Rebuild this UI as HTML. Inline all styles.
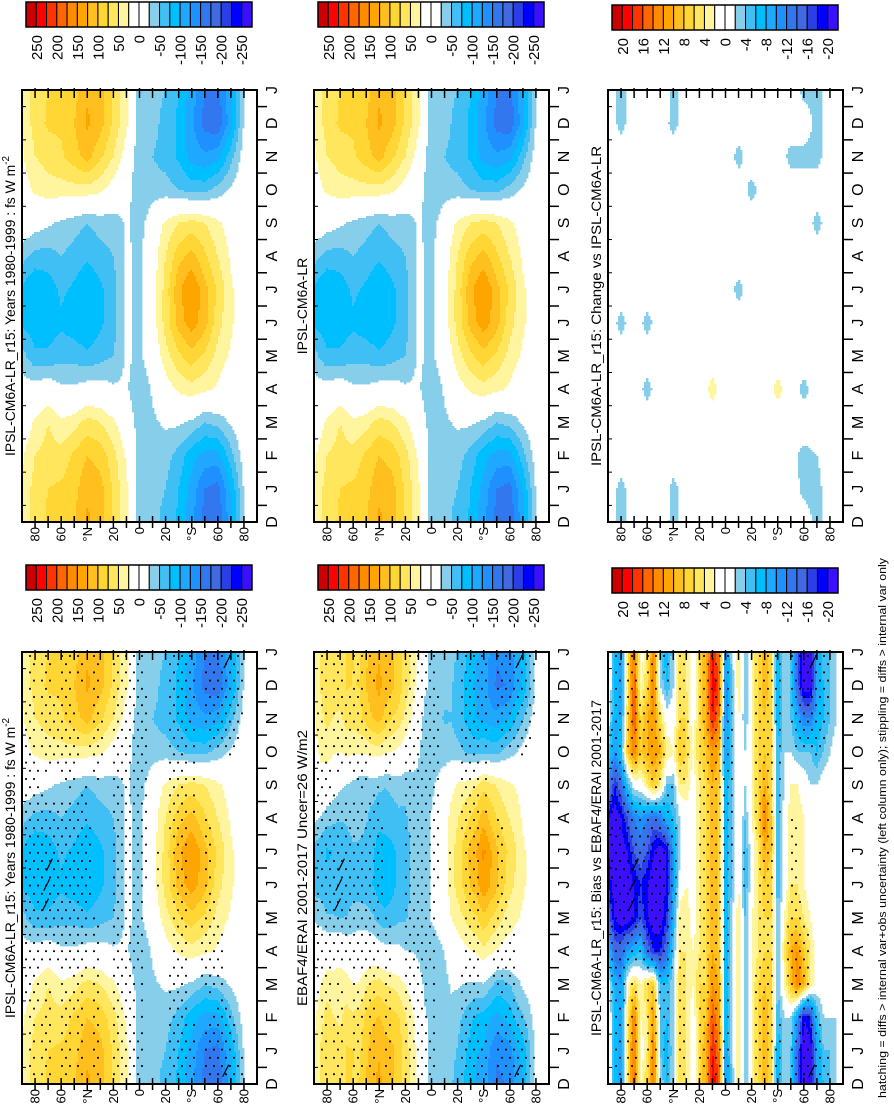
<!DOCTYPE html>
<html><head><meta charset="utf-8"><style>
html,body{margin:0;padding:0;background:#fff;}
svg{display:block;font-family:"Liberation Sans",sans-serif;}
</style></head><body>
<svg id="fig" width="894" height="1105" viewBox="0 0 894 1105" xmlns="http://www.w3.org/2000/svg"></svg>
<script>
// ---------- data ----------
const monthLabels = ["D","J","F","M","A","M","J","J","A","S","O","N","D","J"];
const fluxLabels = ["250","200","150","100","50","0","-50","-100","-150","-200","-250"];
const diffLabels = ["20","16","12","8","4","0","-4","-8","-12","-16","-20"];
const latTickLabels = ["80","60","°N","20","0","20","°S","60","80"];
const latTickValues = [80,60,40,20,0,-20,-40,-60,-80];
// model net surface flux, W m-2, rows Jan..Dec, lat 90N..90S every 10 deg
const modelJan=[30,60,75,80,90,120,110,70,30,-40,-40,-50,-75,-110,-150,-160,-100,-20,0];
const modelFeb=[20,50,60,60,80,100,90,60,20,-40,-35,-40,-60,-90,-110,-110,-60,-10,0];
const modelMar=[0,30,50,30,40,60,50,30,0,-40,-30,-20,-20,-30,-50,-40,-20,0,0];
const modelApr=[-10,-10,0,-20,-20,-10,-10,-20,-20,-50,-20,10,30,40,30,20,0,0,0];
const modelMay=[-40,-70,-70,-60,-60,-70,-60,-50,-20,-30,0,40,70,90,70,40,20,0,0];
const modelJun=[-80,-90,-90,-80,-90,-100,-80,-60,-20,-30,10,60,110,140,110,60,30,0,0];
const modelJul=[-80,-100,-90,-70,-80,-100,-80,-60,-20,-30,10,60,120,150,110,70,30,0,0];
const modelAug=[-40,-60,-60,-50,-60,-70,-60,-50,-20,-30,10,50,90,110,80,50,20,0,0];
const modelSep=[0,-10,-20,-30,-40,-50,-40,-40,-20,-40,0,30,50,60,50,30,10,0,0];
const modelOct=[10,30,40,40,40,40,30,10,-10,-50,-40,-40,-50,-60,-60,-40,-20,0,0];
const modelNov=[20,50,60,70,90,110,80,50,10,-50,-50,-60,-80,-110,-120,-110,-60,-10,0];
const modelDec=[30,60,80,80,100,130,110,70,30,-40,-40,-60,-80,-120,-160,-170,-110,-20,0];
// bias vs EBAF4/ERAI, lat 90N..90S every 5 deg
const biasJan=[2,-6,-10,4,16,0,4,14,-4,-8,-2,6,4,0,6,10,18,14,-10,-2,4,-4,2,6,10,6,-8,-2,-4,-14,-22,-22,-10,-4,-4,-2,0];
const biasFeb=[2,-6,-10,4,14,2,4,12,-4,-6,-2,6,4,0,6,8,16,12,-8,-2,4,-4,2,6,10,6,-6,-2,-2,-10,-20,-18,-6,-2,-2,-2,0];
const biasMar=[0,-8,-10,2,6,2,6,8,-6,-6,-2,6,4,2,6,6,12,10,-8,-2,4,-4,2,6,8,6,-4,2,8,14,10,4,0,0,0,0,0];
const biasApr=[-6,-14,-14,-10,-8,-6,-14,-18,-18,-14,-4,4,4,2,4,6,10,8,-8,-2,4,-4,2,4,6,6,-4,4,10,12,8,4,0,0,0,0,0];
const biasMay=[-14,-20,-22,-22,-20,-16,-20,-22,-22,-18,-8,4,4,0,4,6,10,8,-8,-2,4,-4,2,4,6,6,-4,2,6,6,4,2,0,0,0,0,0];
const biasJun=[-18,-22,-22,-22,-20,-18,-20,-22,-22,-20,-10,0,2,0,4,6,10,8,-8,-4,2,-6,0,4,8,6,-6,0,4,4,2,0,0,0,0,0,0];
const biasJul=[-20,-22,-22,-20,-16,-14,-16,-20,-22,-20,-10,-2,0,0,4,6,10,8,-8,-4,2,-6,0,4,10,8,-6,0,4,4,2,0,0,0,0,0,0];
const biasAug=[-20,-22,-20,-16,-12,-10,-12,-14,-12,-8,-6,-2,0,0,4,6,10,8,-8,-4,2,-4,2,6,14,8,-6,0,4,4,2,-2,0,0,0,0,0];
const biasSep=[-10,-18,-14,-6,0,0,4,8,4,-4,-4,4,4,0,4,6,10,8,-8,-4,2,-2,2,6,10,6,-6,-2,2,2,0,-2,-2,0,0,0,0];
const biasOct=[-4,-10,-6,8,14,8,10,12,10,4,2,8,6,2,6,8,12,10,-10,-4,2,-2,2,6,8,6,-6,-2,-2,-4,-4,-4,-6,-4,-2,0,0];
const biasNov=[0,-8,-8,6,16,6,10,12,6,0,0,6,6,0,6,10,18,14,-12,-4,2,-4,2,6,8,6,-8,-2,-4,-8,-12,-12,-8,-6,-4,-2,0];
const biasDec=[2,-6,-10,4,16,2,6,14,-2,-6,-2,6,4,0,6,10,20,16,-12,-4,4,-4,2,6,10,6,-8,-2,-4,-14,-22,-22,-10,-6,-4,-2,0];
// change vs IPSL-CM6A-LR, lat 90N..90S every 10 deg
const changeJan=[0,-3,0,0,1,-3,0,0,0,0,0,0,0,0,0,-3,-3,0,0];
const changeFeb=[0,0,0,0,0,0,0,0,0,0,0,0,0,0,-1,-3,-2,0,0];
const changeMar=[0,0,0,0,0,0,0,0,0,0,0,0,0,0,0,0,0,0,0];
const changeApr=[0,-1,0,-3,0,0,0,0,3,0,0,0,0,3,0,-3,0,0,0];
const changeMay=[0,0,0,0,0,0,0,0,0,0,0,0,0,0,0,0,0,0,0];
const changeJun=[0,-3,0,-3,0,0,0,0,0,0,0,0,0,0,0,0,0,0,0];
const changeJul=[0,0,0,0,0,0,0,0,0,0,-3,0,0,0,0,0,0,0,0];
const changeAug=[0,0,0,0,0,0,0,0,0,0,0,0,0,0,0,0,0,0,0];
const changeSep=[0,0,0,0,0,0,0,0,0,0,0,0,0,0,0,0,-3,0,0];
const changeOct=[0,0,0,0,0,0,0,0,0,0,0,-3,0,0,0,0,0,0,0];
const changeNov=[0,0,0,0,0,0,0,0,0,0,-3,0,0,0,-3,-3,-3,0,0];
const changeDec=[0,-3,0,0,0,-3,0,0,0,0,0,0,0,0,0,0,-3,0,0];
// hatching marks (lat, time position along D..J axis)
const hatchLat=[72,71,69,-66,-67];
const hatchTime=[5.4,6.0,6.6,0.4,12.7];

const model=[modelJan,modelFeb,modelMar,modelApr,modelMay,modelJun,modelJul,modelAug,modelSep,modelOct,modelNov,modelDec];
const bias=[biasJan,biasFeb,biasMar,biasApr,biasMay,biasJun,biasJul,biasAug,biasSep,biasOct,biasNov,biasDec];
const change=[changeJan,changeFeb,changeMar,changeApr,changeMay,changeJun,changeJul,changeAug,changeSep,changeOct,changeNov,changeDec];

const palette=["#CC0000","#FF0000","#FF3300","#FF6600","#FF8C00","#FFA500","#FFBF1F","#FFD633","#FFE65C","#FFF59E","#FFFFFF","#FFFFFF","#87CEEB","#40BFF5","#00BFFF","#1EA8FF","#1E90FF","#3377EE","#4169E1","#2A3FE8","#0000FF","#3A10FF"];

// ---------- helpers ----------
const NS="http://www.w3.org/2000/svg";
const svg=document.getElementById('fig');
function mk(tag,attrs,parent){const e=document.createElementNS(NS,tag);for(const k in attrs)e.setAttribute(k,attrs[k]);(parent||svg).appendChild(e);return e;}
function field(arr,res,t,lat){
  const i0=Math.floor(t),f=t-i0;
  const m0=((i0+11)%12+12)%12,m1=(m0+1)%12;
  const n=arr[0].length;
  let li=(90-lat)/res; if(li<0)li=0; if(li>n-1)li=n-1;
  const j0=Math.min(Math.floor(li),n-2),g=li-j0;
  const a=arr[m0],b=arr[m1];
  const v0=(a[j0]||0)*(1-g)+(a[j0+1]||0)*g;
  const v1=(b[j0]||0)*(1-g)+(b[j0+1]||0)*g;
  return v0*(1-f)+v1*f;
}
const getModel=(t,l)=>field(model,10,t,l);
const getBias=(t,l)=>field(bias,5,t,l);
const getChange=(t,l)=>field(change,10,t,l);
const getObs=(t,l)=>getModel(t,l)-getBias(t,l);
function colorIndex(v,top,step){let i=Math.floor((top-v)/step);return Math.max(0,Math.min(21,i));}

const colLeft=[22,314,608], PW=235, PH=432, rowTop=[90,652];
const cbTop=[[2,565],[2,565],[5,568]];

const panels=[
 {c:0,r:0,name:'model-1980-1999-panel',get:getModel,top:275,step:25,dot:getChange,thr:3,hatch:false,title:'IPSL-CM6A-LR_r15: Years 1980-1999 : fs W m',sup:true,tl:300,labels:fluxLabels},
 {c:0,r:1,name:'model-vs-obs-panel',get:getModel,top:275,step:25,dot:getBias,thr:4,hatch:true,title:'IPSL-CM6A-LR_r15: Years 1980-1999 : fs W m',sup:true,tl:300,labels:fluxLabels},
 {c:1,r:0,name:'ipsl-reference-panel',get:getModel,top:275,step:25,dot:getChange,thr:3,hatch:false,title:'IPSL-CM6A-LR',sup:false,tl:0,labels:fluxLabels},
 {c:1,r:1,name:'ebaf4-erai-panel',get:getObs,top:275,step:25,dot:getBias,thr:4,hatch:true,title:'EBAF4/ERAI 2001-2017 Uncer=26 W/m2',sup:false,tl:276,labels:fluxLabels},
 {c:2,r:0,name:'change-panel',get:getChange,top:22,step:2,dot:getChange,thr:3,hatch:false,title:'IPSL-CM6A-LR_r15: Change vs IPSL-CM6A-LR',sup:false,tl:320,labels:diffLabels},
 {c:2,r:1,name:'bias-panel',get:getBias,top:22,step:2,dot:getBias,thr:4,hatch:true,title:'IPSL-CM6A-LR_r15: Bias vs EBAF4/ERAI 2001-2017',sup:false,tl:336,labels:diffLabels}
];

panels.forEach(p=>{
  const L=colLeft[p.c], T=rowTop[p.r], B=T+PH, R=L+PW;
  const xOf=lat=>L+(90-lat)/180*PW;
  const yOf=t=>B-t/13*PH;
  const g=mk('g',{});
  
  
  // filled field
  const bs=2;
  for(let y=T;y<B;y+=bs){
    const t=(B-(y+bs/2))/PH*13;
    let runStart=L,runIdx=-1;
    for(let x=L;x<=R;x+=bs){
      let idx=-2;
      if(x<R){const lat=90-(x+bs/2-L)/PW*180;idx=colorIndex(p.get(t,lat),p.top,p.step);}
      if(idx!==runIdx){
        if(runIdx>=0&&palette[runIdx]!=="#FFFFFF"){
          const rc=mk('rect',{x:runStart,y:y,width:Math.min(x,R)-runStart+0.4,height:bs+0.4,fill:palette[runIdx]},g);
          
          
        }
        runStart=x;runIdx=idx;
      }
    }
  }
  // stippling
  let row=0;
  for(let y=T+4;y<B-2;y+=8.2,row++){
    const t=(B-y)/PH*13;
    for(let x=L+(row%2?4:8);x<R-2;x+=8){
      const lat=90-(x-L)/PW*180;
      if(Math.abs(p.dot(t,lat))>=p.thr){
        const d=mk('rect',{x:x-0.9,y:y-0.9,width:1.8,height:1.8,fill:'#000'},g);
        
        
      }
    }
  }
  if(p.hatch){
    hatchLat.forEach((la,i)=>{
      const hx=xOf(la),hy=yOf(hatchTime[i]);
      const h=mk('line',{x1:hx-3,y1:hy+6,x2:hx+3,y2:hy-6,stroke:'#000','stroke-width':1.2},g);
      
      
    });
  }
  // frame
  const fr=mk('rect',{x:L,y:T,width:PW,height:PH,fill:'none',stroke:'#000','stroke-width':2},g);
  
  
  // latitude ticks
  for(let lat=80;lat>=-80;lat-=10){
    const x=xOf(lat);
    mk('line',{x1:x,y1:T-2,x2:x,y2:T+8,stroke:'#000','stroke-width':1.5},g);
    mk('line',{x1:x,y1:B-6,x2:x,y2:B+6,stroke:'#000','stroke-width':1.5},g);
  }
  latTickLabels.forEach((lb,i)=>{
    const x=xOf(latTickValues[i])+4.5;
    const tx=mk('text',{transform:`translate(${x},${B+5}) rotate(-90)`,'text-anchor':'end','font-size':13},g);
    tx.textContent=lb;
    
    
  });
  // month ticks/labels
  for(let i=0;i<13;i++){
    const y=yOf(i+0.5);
    mk('line',{x1:R-1,y1:y,x2:R+10,y2:y,stroke:'#000','stroke-width':1.5},g);
    mk('line',{x1:L,y1:y,x2:L+4,y2:y,stroke:'#000','stroke-width':1},g);
  }
  monthLabels.forEach((m,i)=>{
    const tx=mk('text',{transform:`translate(${R+20},${yOf(i)}) rotate(-90)`,'text-anchor':'middle','font-size':16},g);
    tx.textContent=m;
    
    
  });
  // title
  const tt=mk('text',{transform:`translate(${L-7},${(T+B)/2}) rotate(-90)`,'text-anchor':'middle','font-size':14},g);
  if(p.tl){tt.setAttribute('textLength',p.tl);tt.setAttribute('lengthAdjust','spacingAndGlyphs');}
  tt.textContent=p.title;
  if(p.sup){const s=mk('tspan',{dy:-6,'font-size':10},tt);s.textContent='-2';}
  
  
  // colorbar
  const cx=L+4, cw=226, cy=cbTop[p.c][p.r], ch=25, bw=cw/22;
  const cb=mk('g',{},svg);
  
  
  palette.forEach((col,i)=>{
    const r=mk('rect',{x:cx+i*bw,y:cy,width:bw,height:ch,fill:col,stroke:'#000','stroke-width':1},cb);
    
    
  });
  mk('rect',{x:cx,y:cy,width:cw,height:ch,fill:'none',stroke:'#000','stroke-width':1.5},cb);
  p.labels.forEach((lb,i)=>{
    const bx=cx+(1+2*i)*bw;
    const tx=mk('text',{transform:`translate(${bx+5.5},${cy+ch+8}) rotate(-90)`,'text-anchor':'end','font-size':15},cb);
    tx.textContent=lb;
    
    
  });
});
const fn=mk('text',{transform:'translate(886,828) rotate(-90)','text-anchor':'middle','font-size':11,textLength:540,lengthAdjust:'spacingAndGlyphs'});
fn.textContent='hatching = diffs > internal var+obs uncertainty (left column only); stippling = diffs > internal var only';


</script>
</body></html>
